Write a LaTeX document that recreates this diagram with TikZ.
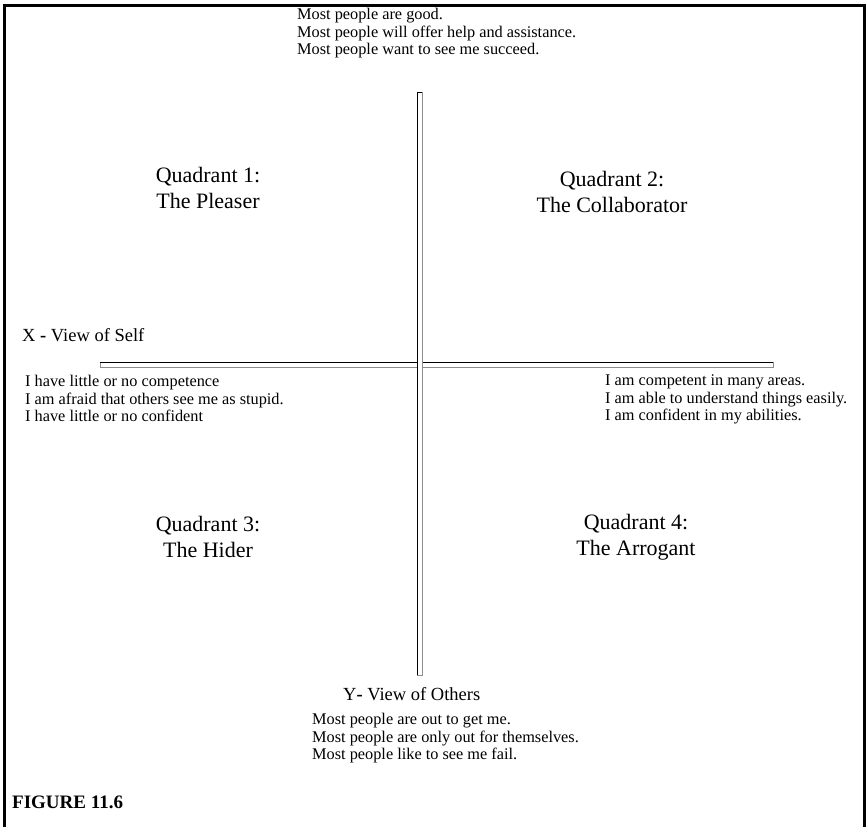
\documentclass[tikz,border=0pt]{standalone}
\usepackage{fontspec}
\setmainfont{Liberation Serif}
\usepackage{tikz}
\usetikzlibrary{positioning}

\begin{document}
\begin{tikzpicture}[
        x=1pt, y=-1pt,
        bodytext/.style = {anchor=north west, align=left, inner sep=0pt, font=\fontsize{16.3}{17.5}\selectfont},
        quadtext/.style = {align=center, inner sep=0pt, font=\fontsize{22}{26}\selectfont},
        axistext/.style = {anchor=base west, inner sep=0pt, font=\fontsize{18.5}{22}\selectfont},
        bar/.style = {draw=black!45, fill=white, line width=0.8pt},
        baredge/.style = {draw=black, line width=0.9pt}
    ]
    \useasboundingbox (0,0) rectangle (867,827);
    % frame, open at the bottom
    \draw[line width=3pt] (4.5,827) -- (4.5,5) -- (864.5,5) -- (864.5,827);

    % axes
    \coordinate (xstart) at (100,362);
    \coordinate (xend) at (773,367);
    \coordinate (ystart) at (417,92);
    \coordinate (yend) at (422,675);
    \draw[bar] (xstart) rectangle (xend);
    \draw[baredge] (xstart |- xstart) -- (xend |- xstart);
    \draw[bar] (ystart) rectangle (yend);
    \draw[baredge] (ystart |- yend) -- (ystart) -- (yend |- ystart);

    \node[bodytext] (good) at (297,8) {Most people are good.\\Most people will offer help and assistance.\\Most people want to see me succeed.};

    \node[quadtext] (q1) at (208,188) {Quadrant 1:\\The Pleaser};
    \node[quadtext] (q2) at (612,192) {Quadrant 2:\\The Collaborator};
    \node[quadtext] (q3) at (208,537) {Quadrant 3:\\The Hider};
    \node[quadtext] (q4) at (636,537) {Quadrant 4:\\The Arrogant};

    \node[axistext] (xlabel) at (22,341) {X \textbf{-} View of Self};
    \node[bodytext] (low) at (25,375) {I have little or no competence\\I am afraid that others see me as stupid.\\I have little or no confident};
    \node[bodytext] (high) at (605,375) {I am competent in many areas.\\I am able to understand things easily.\\I am confident in my abilities.};

    \node[axistext] (ylabel) at (343,700) {Y\textbf{-} View of Others};
    \node[bodytext] (bad) at (312,713) {Most people are out to get me.\\Most people are only out for themselves.\\Most people like to see me fail.};

    \node[anchor=base west, inner sep=0pt, font=\fontsize{19}{22}\selectfont\bfseries] (fig) at (12,808) {FIGURE 11.6};
\end{tikzpicture}
\end{document}
